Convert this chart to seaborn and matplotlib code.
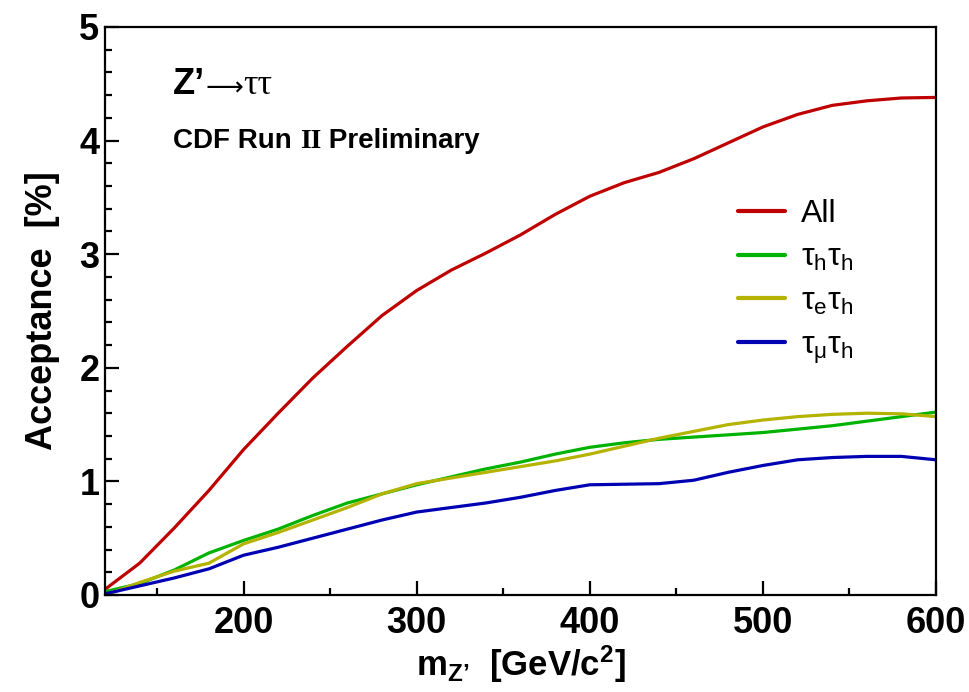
import matplotlib
matplotlib.use("Agg")
import matplotlib.pyplot as plt
import seaborn as sns
import pandas as pd

mass = [120, 140, 160, 180, 200, 220, 240, 260, 280, 300, 320, 340, 360,
        380, 400, 420, 440, 460, 480, 500, 520, 540, 560, 580, 600]
acc_all = [0.05, 0.28, 0.59, 0.92, 1.28, 1.60, 1.91, 2.19, 2.46, 2.68, 2.86, 3.01, 3.17,
           3.35, 3.51, 3.63, 3.72, 3.84, 3.98, 4.12, 4.23, 4.31, 4.35, 4.375, 4.38]
acc_hh = [0.03, 0.10, 0.22, 0.37, 0.48, 0.58, 0.70, 0.81, 0.89, 0.97, 1.04, 1.11, 1.17,
          1.24, 1.30, 1.34, 1.37, 1.39, 1.41, 1.43, 1.46, 1.49, 1.53, 1.57, 1.61]
acc_eh = [0.00, 0.11, 0.21, 0.28, 0.45, 0.55, 0.66, 0.77, 0.89, 0.98, 1.03, 1.08, 1.13,
          1.18, 1.24, 1.31, 1.38, 1.44, 1.50, 1.54, 1.57, 1.59, 1.60, 1.595, 1.57]
acc_mh = [0.01, 0.08, 0.15, 0.23, 0.35, 0.42, 0.50, 0.58, 0.66, 0.73, 0.77, 0.81, 0.86,
          0.92, 0.97, 0.975, 0.98, 1.01, 1.08, 1.14, 1.19, 1.21, 1.22, 1.22, 1.19]

series_names = ["All", "τ$_\\mathrm{h}$τ$_\\mathrm{h}$", "τ$_\\mathrm{e}$τ$_\\mathrm{h}$",
                "τ$_\\mathrm{μ}$τ$_\\mathrm{h}$"]
series_vals = [acc_all, acc_hh, acc_eh, acc_mh]
colors = ["#bf0000", "#00b300", "#b3b300", "#0000b3"]

x_ticks = [200, 300, 400, 500, 600]
y_ticks = [0, 1, 2, 3, 4, 5]

rows = []
for name, vals in zip(series_names, series_vals):
    for m, v in zip(mass, vals):
        rows.append({"mass": m, "acc": v, "channel": name})
df = pd.DataFrame(rows)

sns.set_style("ticks")
plt.rcParams["font.family"] = ["Liberation Sans", "DejaVu Sans"]
plt.rcParams["mathtext.fontset"] = "custom"
plt.rcParams["mathtext.rm"] = "Liberation Sans"
plt.rcParams["mathtext.it"] = "Liberation Sans:italic"
plt.rcParams["mathtext.bf"] = "Liberation Sans:bold"
for k in ["text.color", "axes.labelcolor", "xtick.color", "ytick.color", "axes.edgecolor"]:
    plt.rcParams[k] = "black"

fig = plt.figure(figsize=(9.69, 6.92), dpi=100)
ax = fig.add_axes([0.1084, 0.1402, 0.8576, 0.8208])

sns.lineplot(data=df, x="mass", y="acc", hue="channel", palette=colors,
             linewidth=2.3, ax=ax, sort=False)

ax.set_xlim(120, 600)
ax.set_ylim(0, 5)
ax.set_xticks(x_ticks)
ax.set_xticks(list(range(150, 600, 100)), minor=True)
ax.set_yticks(y_ticks)
ax.set_yticks([i * 0.2 for i in range(26)], minor=True)
ax.set_xticklabels([str(t) for t in x_ticks], fontsize=26, fontweight="bold")
ax.set_yticklabels([str(t) for t in y_ticks], fontsize=26, fontweight="bold")
ax.tick_params(which="both", direction="in", width=1.6, top=False, right=False, color="black")
ax.tick_params(which="major", length=10)
ax.tick_params(which="minor", length=5)
ax.tick_params(axis="y", pad=4)
ax.tick_params(axis="x", pad=8)
for s in ax.spines.values():
    s.set_linewidth(1.6)
    s.set_color("black")

ax.set_xlabel("m$_\\mathbf{Z’}$  [GeV/c$^\\mathbf{2}$]", fontsize=25, fontweight="bold", labelpad=2)
ax.set_ylabel("Acceptance  [%]", fontsize=26, fontweight="bold", labelpad=14)

t1 = ax.text(0.082, 0.882, "Z’", transform=ax.transAxes, fontsize=26, fontweight="bold",
             va="baseline", ha="left")
t1b = ax.annotate("⟶", xy=(1, 0.02), xycoords=t1, va="bottom", ha="left", fontsize=19,
                  family=["DejaVu Sans"])
ax.annotate("ττ", xy=(1, 0), xycoords=(t1b, t1), va="bottom", ha="left", fontsize=26,
            family=["Liberation Serif", "DejaVu Serif"])

t2 = ax.text(0.082, 0.787, "CDF Run ", transform=ax.transAxes, fontsize=20, fontweight="bold",
             va="baseline", ha="left")
t3 = ax.annotate("II", xy=(1, 0), xycoords=t2, va="bottom", ha="left", fontsize=20,
                 fontweight="bold", family=["Liberation Serif", "DejaVu Serif"])
ax.annotate(" Preliminary", xy=(1, 0), xycoords=t3, va="bottom", ha="left", fontsize=20,
            fontweight="bold")

leg = ax.legend(loc="upper left", bbox_to_anchor=(0.762, 0.697), frameon=False,
                fontsize=23, handlelength=1.45, handletextpad=0.5, labelspacing=0.43,
                borderpad=0, borderaxespad=0)
for h in leg.get_lines():
    h.set_linewidth(3)

fig.savefig("out.png", dpi=100, facecolor="white")
